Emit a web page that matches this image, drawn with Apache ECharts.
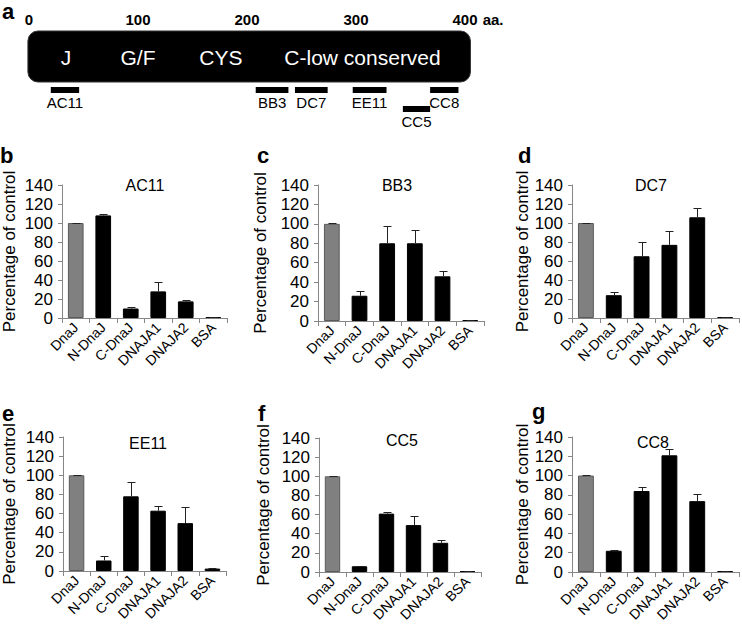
<!DOCTYPE html>
<html><head><meta charset="utf-8">
<script src="https://cdn.jsdelivr.net/npm/echarts@6/dist/echarts.min.js"></script>
<style>html,body{margin:0;padding:0;background:#fff}#c{width:742px;height:627px}</style>
</head><body><div id="c"></div>
<script>
// ---------- data ----------
const categories = ['DnaJ', 'N-DnaJ', 'C-DnaJ', 'DNAJA1', 'DNAJA2', 'BSA'];
const panelTitles = ['AC11', 'BB3', 'DC7', 'EE11', 'CC5', 'CC8'];
const panelLetters = ['b', 'c', 'd', 'e', 'f', 'g'];
const ac11Values = [100, 108, 10, 28, 17.5, 1];
const ac11Errors = [0.4, 2, 1.5, 10, 1, 0.3];
const bb3Values = [100, 26, 80, 80, 46, 1];
const bb3Errors = [0.4, 4.5, 18, 14, 5, 0.3];
const dc7Values = [100, 24, 65, 77, 106, 1];
const dc7Errors = [0.4, 3.5, 14.5, 15, 10, 0.3];
const ee11Values = [100, 11, 78, 63, 50, 2.5];
const ee11Errors = [0.4, 4.5, 14.5, 5, 17, 1];
const cc5Values = [100, 6, 61, 49, 30.5, 1];
const cc5Errors = [0.4, 0.7, 1.5, 10, 2.5, 0.3];
const cc8Values = [100, 22, 84, 121, 73.5, 1];
const cc8Errors = [0.4, 1, 4.5, 6.5, 7.5, 0.4];
const yMin = 0, yMax = 140, yStep = 20;

// panel a: protein map (amino-acid positions)
const mapMin = 0, mapMax = 400, mapStep = 100;
const domainBox = [-1, 405];
const domainNames = ['J', 'G/F', 'CYS', 'C-low conserved'];
const domainCenters = [34, 100, 176, 306];
const epitopeNames = ['AC11', 'BB3', 'DC7', 'EE11', 'CC5', 'CC8'];
const epitopeStart = [20, 208, 244, 297, 343, 368];
const epitopeEnd = [46, 238, 274, 328, 368, 394];
const epitopeRow = [0, 0, 0, 0, 1, 0];

// ---------- layout / style ----------
const FONT = '"Liberation Sans", Arial, Helvetica, sans-serif';
const panelValues = [ac11Values, bb3Values, dc7Values, ee11Values, cc5Values, cc8Values];
const panelErrors = [ac11Errors, bb3Errors, dc7Errors, ee11Errors, cc5Errors, cc8Errors];
const grids = [
  {left: 62, top: 185, width: 165, height: 133},
  {left: 318, top: 185, width: 166, height: 136},
  {left: 572, top: 185, width: 167, height: 133},
  {left: 63, top: 437, width: 163, height: 134},
  {left: 319, top: 438, width: 162, height: 134},
  {left: 572, top: 437, width: 167, height: 135}
];
const nameGaps = [44, 49, 40, 45, 47, 40];
const titlePos = [[145, 185], [397, 185], [651, 185], [148, 443], [402, 440], [653, 442]];
const letterPos = [[0, 155], [257, 155], [518, 155], [2, 413], [258, 413], [532, 411]];
const AXIS = '#868686';

const option = {
  animation: false,
  textStyle: {fontFamily: FONT},
  grid: [{left: 29, width: 436, top: 31, height: 85}].concat(grids),
  xAxis: [{
    gridIndex: 0, type: 'value', position: 'top', min: mapMin, max: mapMax, interval: mapStep,
    axisLine: {show: false}, axisTick: {show: false}, splitLine: {show: false},
    axisLabel: {
      margin: 4, color: '#000',
      formatter: v => v === 400 ? '{p| }{n|400}{u| aa.}' : '{n|' + v + '}',
      rich: {
        n: {fontWeight: 'bold', fontSize: 15, fontFamily: FONT, color: '#000'},
        p: {width: 27, fontSize: 15},
        u: {width: 27, fontWeight: 'bold', fontSize: 15, fontFamily: FONT, color: '#000', align: 'left'}
      }
    }
  }].concat(grids.map((g, i) => ({
    gridIndex: i + 1, type: 'category', data: categories,
    axisLine: {lineStyle: {color: AXIS, width: 1}},
    axisTick: {show: true, length: 5, lineStyle: {color: AXIS}},
    axisLabel: {rotate: 45, interval: 0, fontSize: 14, color: '#000', margin: 7, fontFamily: FONT},
    splitLine: {show: false}
  }))),
  yAxis: [{gridIndex: 0, type: 'value', min: 0, max: 1, show: false}].concat(grids.map((g, i) => ({
    gridIndex: i + 1, type: 'value', min: yMin, max: yMax, interval: yStep,
    name: 'Percentage of control', nameLocation: 'middle', nameGap: nameGaps[i],
    nameTextStyle: {fontSize: 17, color: '#000', fontFamily: FONT},
    axisLine: {show: true, lineStyle: {color: AXIS, width: 1}},
    axisTick: {show: true, length: 4, lineStyle: {color: AXIS}},
    axisLabel: {fontSize: 17, color: '#000', margin: 9, fontFamily: FONT},
    splitLine: {show: false}
  }))),
  graphic: panelTitles.map((t, i) => ({
    type: 'text', x: titlePos[i][0], y: titlePos[i][1],
    style: {text: t, fontSize: 16, fill: '#000', align: 'center', verticalAlign: 'middle', font: '16px ' + FONT}
  })).concat(panelLetters.map((t, i) => ({
    type: 'text', x: letterPos[i][0], y: letterPos[i][1],
    style: {text: t, fill: '#000', align: 'left', verticalAlign: 'middle', font: 'bold 22px ' + FONT}
  }))).concat([{
    type: 'text', x: 2, y: 11,
    style: {text: 'a', fill: '#000', align: 'left', verticalAlign: 'middle', font: 'bold 22px ' + FONT}
  }]),
  series: []
};

// panel a: domain box
option.series.push({
  type: 'custom', xAxisIndex: 0, yAxisIndex: 0, silent: true,
  data: [[domainBox[0], domainBox[1]]],
  renderItem: (params, api) => {
    const x0 = api.coord([api.value(0), 0])[0];
    const x1 = api.coord([api.value(1), 0])[0];
    return {type: 'rect', shape: {x: x0, y: params.coordSys.y, width: x1 - x0, height: 51, r: 10},
      style: {fill: '#000', stroke: '#333', lineWidth: 1}};
  }
});
// panel a: domain names
option.series.push({
  type: 'custom', xAxisIndex: 0, yAxisIndex: 0, silent: true, z: 5,
  data: domainCenters.map(c => [c]),
  renderItem: (params, api) => {
    const x = api.coord([api.value(0), 0])[0];
    return {type: 'text', x: x, y: params.coordSys.y + 26,
      style: {text: domainNames[params.dataIndex], fill: '#fff', align: 'center', verticalAlign: 'middle', font: '21px ' + FONT}};
  }
});
// panel a: epitopes
option.series.push({
  type: 'custom', xAxisIndex: 0, yAxisIndex: 0, silent: true,
  data: epitopeStart.map((s, i) => [s, epitopeEnd[i], epitopeRow[i]]),
  renderItem: (params, api) => {
    const x0 = api.coord([api.value(0), 0])[0];
    const x1 = api.coord([api.value(1), 0])[0];
    const top = params.coordSys.y + 56 + api.value(2) * 19;
    return {type: 'group', children: [
      {type: 'rect', shape: {x: x0, y: top, width: x1 - x0, height: 6}, style: {fill: '#000'}},
      {type: 'text', x: (x0 + x1) / 2, y: top + 8,
        style: {text: epitopeNames[params.dataIndex], fill: '#000', align: 'center', verticalAlign: 'top', font: '15px ' + FONT}}
    ]};
  }
});

// bar panels
panelValues.forEach((vals, p) => {
  option.series.push({
    type: 'bar', xAxisIndex: p + 1, yAxisIndex: p + 1, barWidth: '57%', silent: true,
    data: vals.map((v, i) => ({
      value: v,
      itemStyle: i === 0 ? {color: '#808080', borderColor: '#5a5a5a', borderWidth: 1}
                         : {color: '#000', borderColor: '#000', borderWidth: 1}
    }))
  });
  option.series.push({
    type: 'custom', xAxisIndex: p + 1, yAxisIndex: p + 1, silent: true, z: 10,
    encode: {x: 0, y: 1},
    data: vals.map((v, i) => [i, v, panelErrors[p][i]]),
    renderItem: (params, api) => {
      const a = api.coord([api.value(0), api.value(1)]);
      const b = api.coord([api.value(0), api.value(1) + api.value(2)]);
      const x = Math.round(a[0]) + 0.5;
      const yb = Math.round(b[1]) + 0.5;
      const cap = 4;
      return {type: 'group', children: [
        {type: 'line', shape: {x1: x, y1: a[1], x2: x, y2: yb}, style: {stroke: '#222', lineWidth: 1}},
        {type: 'line', shape: {x1: x - cap, y1: yb, x2: x + cap, y2: yb}, style: {stroke: '#222', lineWidth: 1}}
      ]};
    }
  });
});

const chart = echarts.init(document.getElementById('c'), null, {renderer: 'svg'});
chart.setOption(option);
</script></body></html>
